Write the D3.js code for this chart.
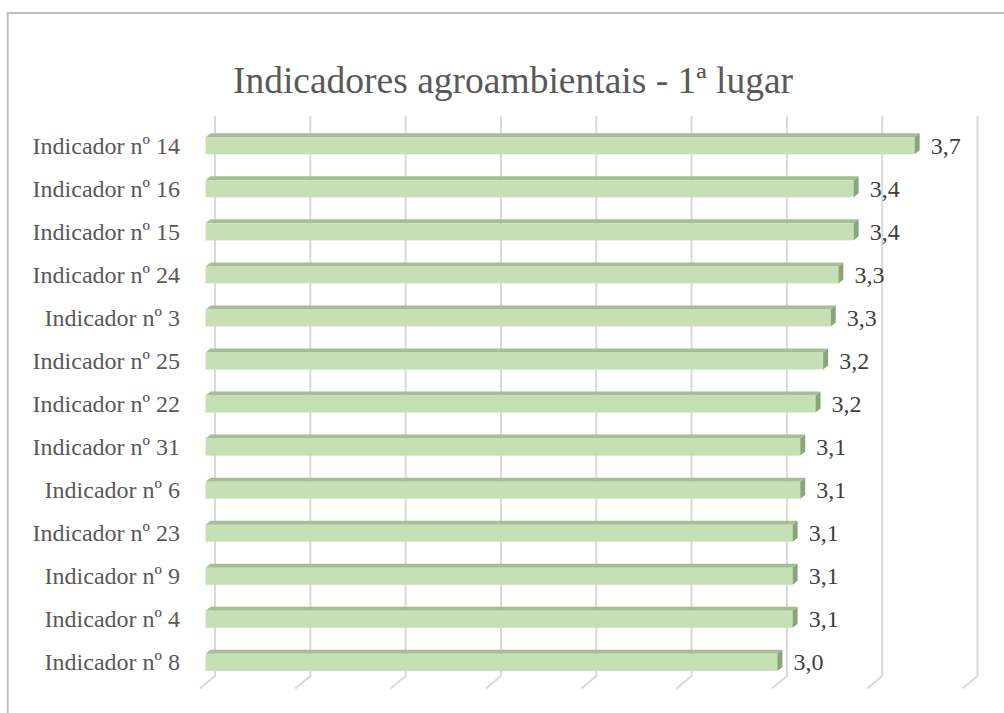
<!DOCTYPE html>
<html>
<head>
<meta charset="utf-8">
<script src="https://cdn.jsdelivr.net/npm/d3@7"></script>
<style>
  html, body { margin: 0; padding: 0; background: #ffffff; }
  svg { display: block; }
</style>
</head>
<body>
<svg id="chart" width="1004" height="713"></svg>
<script>
// Indicators ranked by mean score (top first)
const categories = [
  "Indicador nº 14", "Indicador nº 16", "Indicador nº 15", "Indicador nº 24",
  "Indicador nº 3", "Indicador nº 25", "Indicador nº 22", "Indicador nº 31",
  "Indicador nº 6", "Indicador nº 23", "Indicador nº 9", "Indicador nº 4",
  "Indicador nº 8"
];
const values = [3.72, 3.40, 3.40, 3.32, 3.28, 3.24, 3.20, 3.12, 3.12, 3.08, 3.08, 3.08, 3.00];
const gridTicks = [0, 0.5, 1, 1.5, 2, 2.5, 3, 3.5, 4];
const title = "Indicadores agroambientais - 1ª lugar";

const svg = d3.select("#chart");
const W = 1004, H = 713;

// back wall of the 3-D plot
const wallTop = 116.2, wallBottom = 675.9;
const x = d3.scaleLinear().domain([0, 4]).range([215, 977.5]);
const y = d3.scaleBand().domain(categories).range([wallTop, wallBottom])
  .paddingInner(0.605).paddingOuter(0.3025);

// oblique depth: floor runs from the wall toward the viewer
const floorDx = -15, floorDy = 12.7;
// bar front face sits this far in front of the wall, bar depth is small
const frontDx = -9.5, frontDy = 8;
const depthDx = 5, depthDy = -4;

const fmt = v => d3.format(".1f")(v).replace(".", ",");
const serif = "'Liberation Serif', 'Times New Roman', serif";

svg.append("rect").attr("width", W).attr("height", H).attr("fill", "#ffffff");

// chart frame
svg.append("path")
  .attr("d", `M7.7,${H} L7.7,13 L${W},13`)
  .attr("fill", "none").attr("stroke", "#bfbfbf").attr("stroke-width", 2);

// title
svg.append("text")
  .attr("x", 513).attr("y", 93)
  .attr("text-anchor", "middle")
  .attr("font-family", serif)
  .attr("font-size", 37.5)
  .attr("fill", "#595959")
  .text(title);

// gridlines on the back wall, bending forward along the floor
const grid = svg.append("g").attr("class", "grid");
grid.selectAll("path").data(gridTicks).join("path")
  .attr("d", t => `M${x(t)},${wallTop} L${x(t)},${wallBottom} L${x(t) + floorDx},${wallBottom + floorDy}`)
  .attr("fill", "none")
  .attr("stroke", "#d9d9d9")
  .attr("stroke-width", 2)
  .attr("stroke-linejoin", "round");

// bars
const bars = svg.append("g").attr("class", "bars")
  .selectAll("g").data(categories.map((c, i) => ({ c, v: values[i] }))).join("g");

const x0f = d => x(0) + frontDx;
const x1f = d => x(d.v) + frontDx;
const topF = d => y(d.c) + frontDy;
const botF = d => y(d.c) + y.bandwidth() + frontDy;

// top face
bars.append("path")
  .attr("d", d => `M${x0f(d)},${topF(d)} L${x1f(d)},${topF(d)} L${x1f(d) + depthDx},${topF(d) + depthDy} L${x0f(d) + depthDx},${topF(d) + depthDy} Z`)
  .attr("fill", "#a5be96");

// front face
bars.append("rect")
  .attr("x", d => x0f(d))
  .attr("y", d => topF(d))
  .attr("width", d => x1f(d) - x0f(d))
  .attr("height", y.bandwidth())
  .attr("fill", "#c5e0b4");

// right end face
bars.append("path")
  .attr("d", d => `M${x1f(d)},${topF(d)} L${x1f(d) + depthDx},${topF(d) + depthDy} L${x1f(d) + depthDx},${botF(d) + depthDy} L${x1f(d)},${botF(d)} Z`)
  .attr("fill", "#8aa47c");

// value labels
bars.append("text")
  .attr("x", d => x1f(d) + depthDx + 11)
  .attr("y", d => (topF(d) + botF(d)) / 2 + 8)
  .attr("font-family", serif)
  .attr("font-size", 24)
  .attr("fill", "#404040")
  .text(d => fmt(d.v));

// category labels
svg.append("g").attr("class", "cats")
  .selectAll("text").data(categories).join("text")
  .attr("x", 180)
  .attr("y", c => y(c) + frontDy + y.bandwidth() / 2 + 8)
  .attr("text-anchor", "end")
  .attr("font-family", serif)
  .attr("font-size", 24)
  .attr("fill", "#595959")
  .text(c => c);
</script>
</body>
</html>
